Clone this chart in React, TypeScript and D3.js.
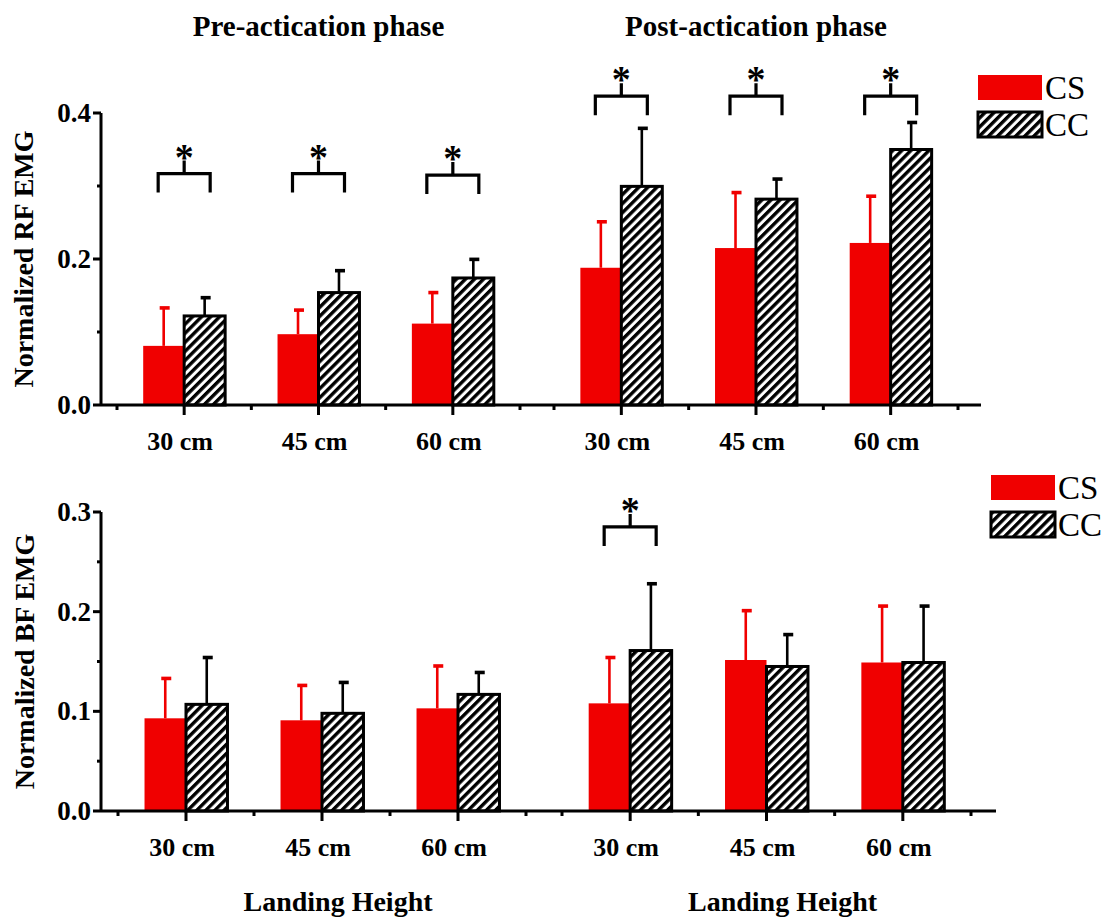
import React, { useEffect, useRef } from 'react';
import * as d3 from 'd3';

// categories
const heights = ['30 cm', '45 cm', '60 cm'];
const phases = ['Pre-actication phase', 'Post-actication phase'];
const seriesNames = ['CS', 'CC'];

// RF EMG (top panel): pre 30/45/60, then post 30/45/60
const rfCS = [0.081, 0.097, 0.1115, 0.188, 0.215, 0.222];
const rfCSErr = [0.052, 0.033, 0.0425, 0.063, 0.076, 0.064];
const rfCC = [0.122, 0.154, 0.174, 0.2995, 0.282, 0.35];
const rfCCErr = [0.025, 0.03, 0.0255, 0.0795, 0.0275, 0.037];
const rfSig = [0.317, 0.317, 0.315, 0.423, 0.423, 0.423];
const rfTicks = [0, 0.2, 0.4];
const rfMinor = [0.1, 0.3];

// BF EMG (bottom panel)
const bfCS = [0.093, 0.091, 0.103, 0.108, 0.1515, 0.149];
const bfCSErr = [0.04, 0.035, 0.0425, 0.046, 0.0495, 0.0566];
const bfCC = [0.107, 0.098, 0.117, 0.161, 0.145, 0.149];
const bfCCErr = [0.047, 0.031, 0.022, 0.067, 0.032, 0.0566];
const bfSig = [null, null, null, 0.285, null, null];
const bfTicks = [0, 0.1, 0.2, 0.3];
const bfMinor = [0.05, 0.15, 0.25];

const FONT = '"Liberation Serif", "Times New Roman", serif';
const RED = '#f00000';

const App = () => {
    const ref = useRef(null);

    useEffect(() => {
        const svg = d3.select(ref.current);
        svg.selectAll('*').remove();

        // hatch pattern for CC bars
        svg.append('defs')
            .append('pattern')
            .attr('id', 'hatch')
            .attr('patternUnits', 'userSpaceOnUse')
            .attr('width', 6.4)
            .attr('height', 6.4)
            .attr('patternTransform', 'rotate(45)')
            .call(p => {
                p.append('rect').attr('width', 6.4).attr('height', 6.4).attr('fill', 'white');
                p.append('line')
                    .attr('x1', 1.7).attr('y1', 0).attr('x2', 1.7).attr('y2', 6.4)
                    .attr('stroke', 'black').attr('stroke-width', 3.4);
            });

        const drawPanel = (cfg) => {
            const g = svg.append('g');
            const y = d3.scaleLinear().domain([0, cfg.yMax]).range([cfg.y0, cfg.yTop]);
            const xs = cfg.phaseRanges.map(r => d3.scaleBand().domain(heights).range(r));
            const bw = xs[0].bandwidth();
            const barW = bw * 0.305;

            const items = [];
            phases.forEach((ph, p) => {
                heights.forEach((h, i) => {
                    const k = p * 3 + i;
                    items.push({ k, cx: xs[p](h) + xs[p].bandwidth() / 2, h });
                });
            });

            // bars
            items.forEach(({ k, cx }) => {
                g.append('rect')
                    .attr('x', cx - barW)
                    .attr('y', y(cfg.cs[k]))
                    .attr('width', barW)
                    .attr('height', cfg.y0 - y(cfg.cs[k]))
                    .attr('fill', RED);
                g.append('rect')
                    .attr('x', cx)
                    .attr('y', y(cfg.cc[k]))
                    .attr('width', barW)
                    .attr('height', cfg.y0 - y(cfg.cc[k]))
                    .attr('fill', 'url(#hatch)')
                    .attr('stroke', 'black')
                    .attr('stroke-width', 3);
            });

            // error bars
            const errBar = (x, v, e, color) => {
                g.append('line')
                    .attr('x1', x).attr('x2', x)
                    .attr('y1', y(v)).attr('y2', y(v + e))
                    .attr('stroke', color).attr('stroke-width', 2.6);
                g.append('line')
                    .attr('x1', x - 4).attr('x2', x + 6)
                    .attr('y1', y(v + e)).attr('y2', y(v + e))
                    .attr('stroke', color).attr('stroke-width', 3.6);
            };
            items.forEach(({ k, cx }) => {
                errBar(cx - barW / 2, cfg.cs[k], cfg.csErr[k], RED);
                errBar(cx + barW / 2, cfg.cc[k], cfg.ccErr[k], 'black');
            });

            // significance brackets
            items.forEach(({ k, cx }) => {
                const s = cfg.sig[k];
                if (s == null) return;
                const yb = y(s);
                g.append('path')
                    .attr('d', `M${cx - 26},${yb + 19}V${yb}H${cx + 26}V${yb + 19}M${cx},${yb}V${yb - 13}`)
                    .attr('fill', 'none')
                    .attr('stroke', 'black')
                    .attr('stroke-width', 3.2);
                g.append('text')
                    .attr('x', cx)
                    .attr('y', yb - 4)
                    .attr('text-anchor', 'middle')
                    .style('font-family', FONT)
                    .style('font-weight', 'bold')
                    .style('font-size', '38px')
                    .text('*');
            });

            // y axis
            const xAxis0 = cfg.axisX;
            g.append('line')
                .attr('x1', xAxis0).attr('x2', xAxis0)
                .attr('y1', cfg.y0).attr('y2', y(cfg.yMax))
                .attr('stroke', 'black').attr('stroke-width', 3);
            cfg.ticks.forEach(t => {
                g.append('line')
                    .attr('x1', xAxis0 - 8).attr('x2', xAxis0)
                    .attr('y1', y(t)).attr('y2', y(t))
                    .attr('stroke', 'black').attr('stroke-width', 3);
                g.append('text')
                    .attr('x', xAxis0 - 10)
                    .attr('y', y(t) + 9)
                    .attr('text-anchor', 'end')
                    .style('font-family', FONT)
                    .style('font-weight', 'bold')
                    .style('font-size', '27px')
                    .text(d3.format('.1f')(t));
            });
            cfg.minor.forEach(t => {
                g.append('line')
                    .attr('x1', xAxis0 - 4).attr('x2', xAxis0)
                    .attr('y1', y(t)).attr('y2', y(t))
                    .attr('stroke', 'black').attr('stroke-width', 3);
            });

            // x axis
            g.append('line')
                .attr('x1', xAxis0).attr('x2', cfg.axisEnd)
                .attr('y1', cfg.y0).attr('y2', cfg.y0)
                .attr('stroke', 'black').attr('stroke-width', 3);
            xs.forEach(sc => {
                const edges = [...heights.map(h => sc(h)), sc.range()[1]];
                edges.forEach(ex => {
                    g.append('line')
                        .attr('x1', ex).attr('x2', ex)
                        .attr('y1', cfg.y0).attr('y2', cfg.y0 + 5)
                        .attr('stroke', 'black').attr('stroke-width', 3);
                });
            });
            items.forEach(({ cx, h }) => {
                g.append('line')
                    .attr('x1', cx).attr('x2', cx)
                    .attr('y1', cfg.y0).attr('y2', cfg.y0 + 10)
                    .attr('stroke', 'black').attr('stroke-width', 3);
                g.append('text')
                    .attr('x', cx - 4)
                    .attr('y', cfg.y0 + 45)
                    .attr('text-anchor', 'middle')
                    .style('font-family', FONT)
                    .style('font-weight', 'bold')
                    .style('font-size', '26px')
                    .text(h);
            });

            // y axis label
            g.append('text')
                .attr('transform', `translate(${cfg.labelX},${(cfg.y0 + y(cfg.yMax)) / 2}) rotate(-90)`)
                .attr('text-anchor', 'middle')
                .style('font-family', FONT)
                .style('font-weight', 'bold')
                .style('font-size', '28px')
                .text(cfg.yLabel);

            // phase titles / x labels
            xs.forEach((sc, p) => {
                const mid = (sc.range()[0] + sc.range()[1]) / 2;
                if (cfg.showTitles) {
                    g.append('text')
                        .attr('x', mid)
                        .attr('y', 36)
                        .attr('text-anchor', 'middle')
                        .style('font-family', FONT)
                        .style('font-weight', 'bold')
                        .style('font-size', '29px')
                        .text(phases[p]);
                }
                if (cfg.showXLabel) {
                    g.append('text')
                        .attr('x', mid + 16)
                        .attr('y', cfg.y0 + 100)
                        .attr('text-anchor', 'middle')
                        .style('font-family', FONT)
                        .style('font-weight', 'bold')
                        .style('font-size', '28px')
                        .text('Landing Height');
                }
            });

            // legend
            seriesNames.forEach((name, i) => {
                const ly = cfg.legendY + i * 37;
                g.append('rect')
                    .attr('x', cfg.legendX)
                    .attr('y', ly)
                    .attr('width', 64)
                    .attr('height', 25)
                    .attr('fill', i === 0 ? RED : 'url(#hatch)')
                    .attr('stroke', i === 0 ? 'none' : 'black')
                    .attr('stroke-width', 3);
                g.append('text')
                    .attr('x', cfg.legendX + 67)
                    .attr('y', ly + 24)
                    .style('font-family', FONT)
                    .style('font-size', '33px')
                    .text(name);
            });
        };

        drawPanel({
            cs: rfCS, csErr: rfCSErr, cc: rfCC, ccErr: rfCCErr, sig: rfSig,
            ticks: rfTicks, minor: rfMinor, yMax: 0.4,
            y0: 405, yTop: 113, axisX: 101, axisEnd: 981,
            phaseRanges: [[117, 520], [554, 958]],
            yLabel: 'Normalized RF EMG', labelX: 33,
            legendX: 978, legendY: 75,
            showTitles: true, showXLabel: false,
        });
        drawPanel({
            cs: bfCS, csErr: bfCSErr, cc: bfCC, ccErr: bfCCErr, sig: bfSig,
            ticks: bfTicks, minor: bfMinor, yMax: 0.3,
            y0: 811, yTop: 512, axisX: 101, axisEnd: 996,
            phaseRanges: [[118, 526], [562, 971]],
            yLabel: 'Normalized BF EMG', labelX: 34,
            legendX: 991, legendY: 475,
            showTitles: false, showXLabel: true,
        });
    }, []);

    return (
        <svg ref={ref} width={1112} height={920}
            style={{ position: 'absolute', left: 0, top: 0, background: 'white' }} />
    );
};

export default App;
